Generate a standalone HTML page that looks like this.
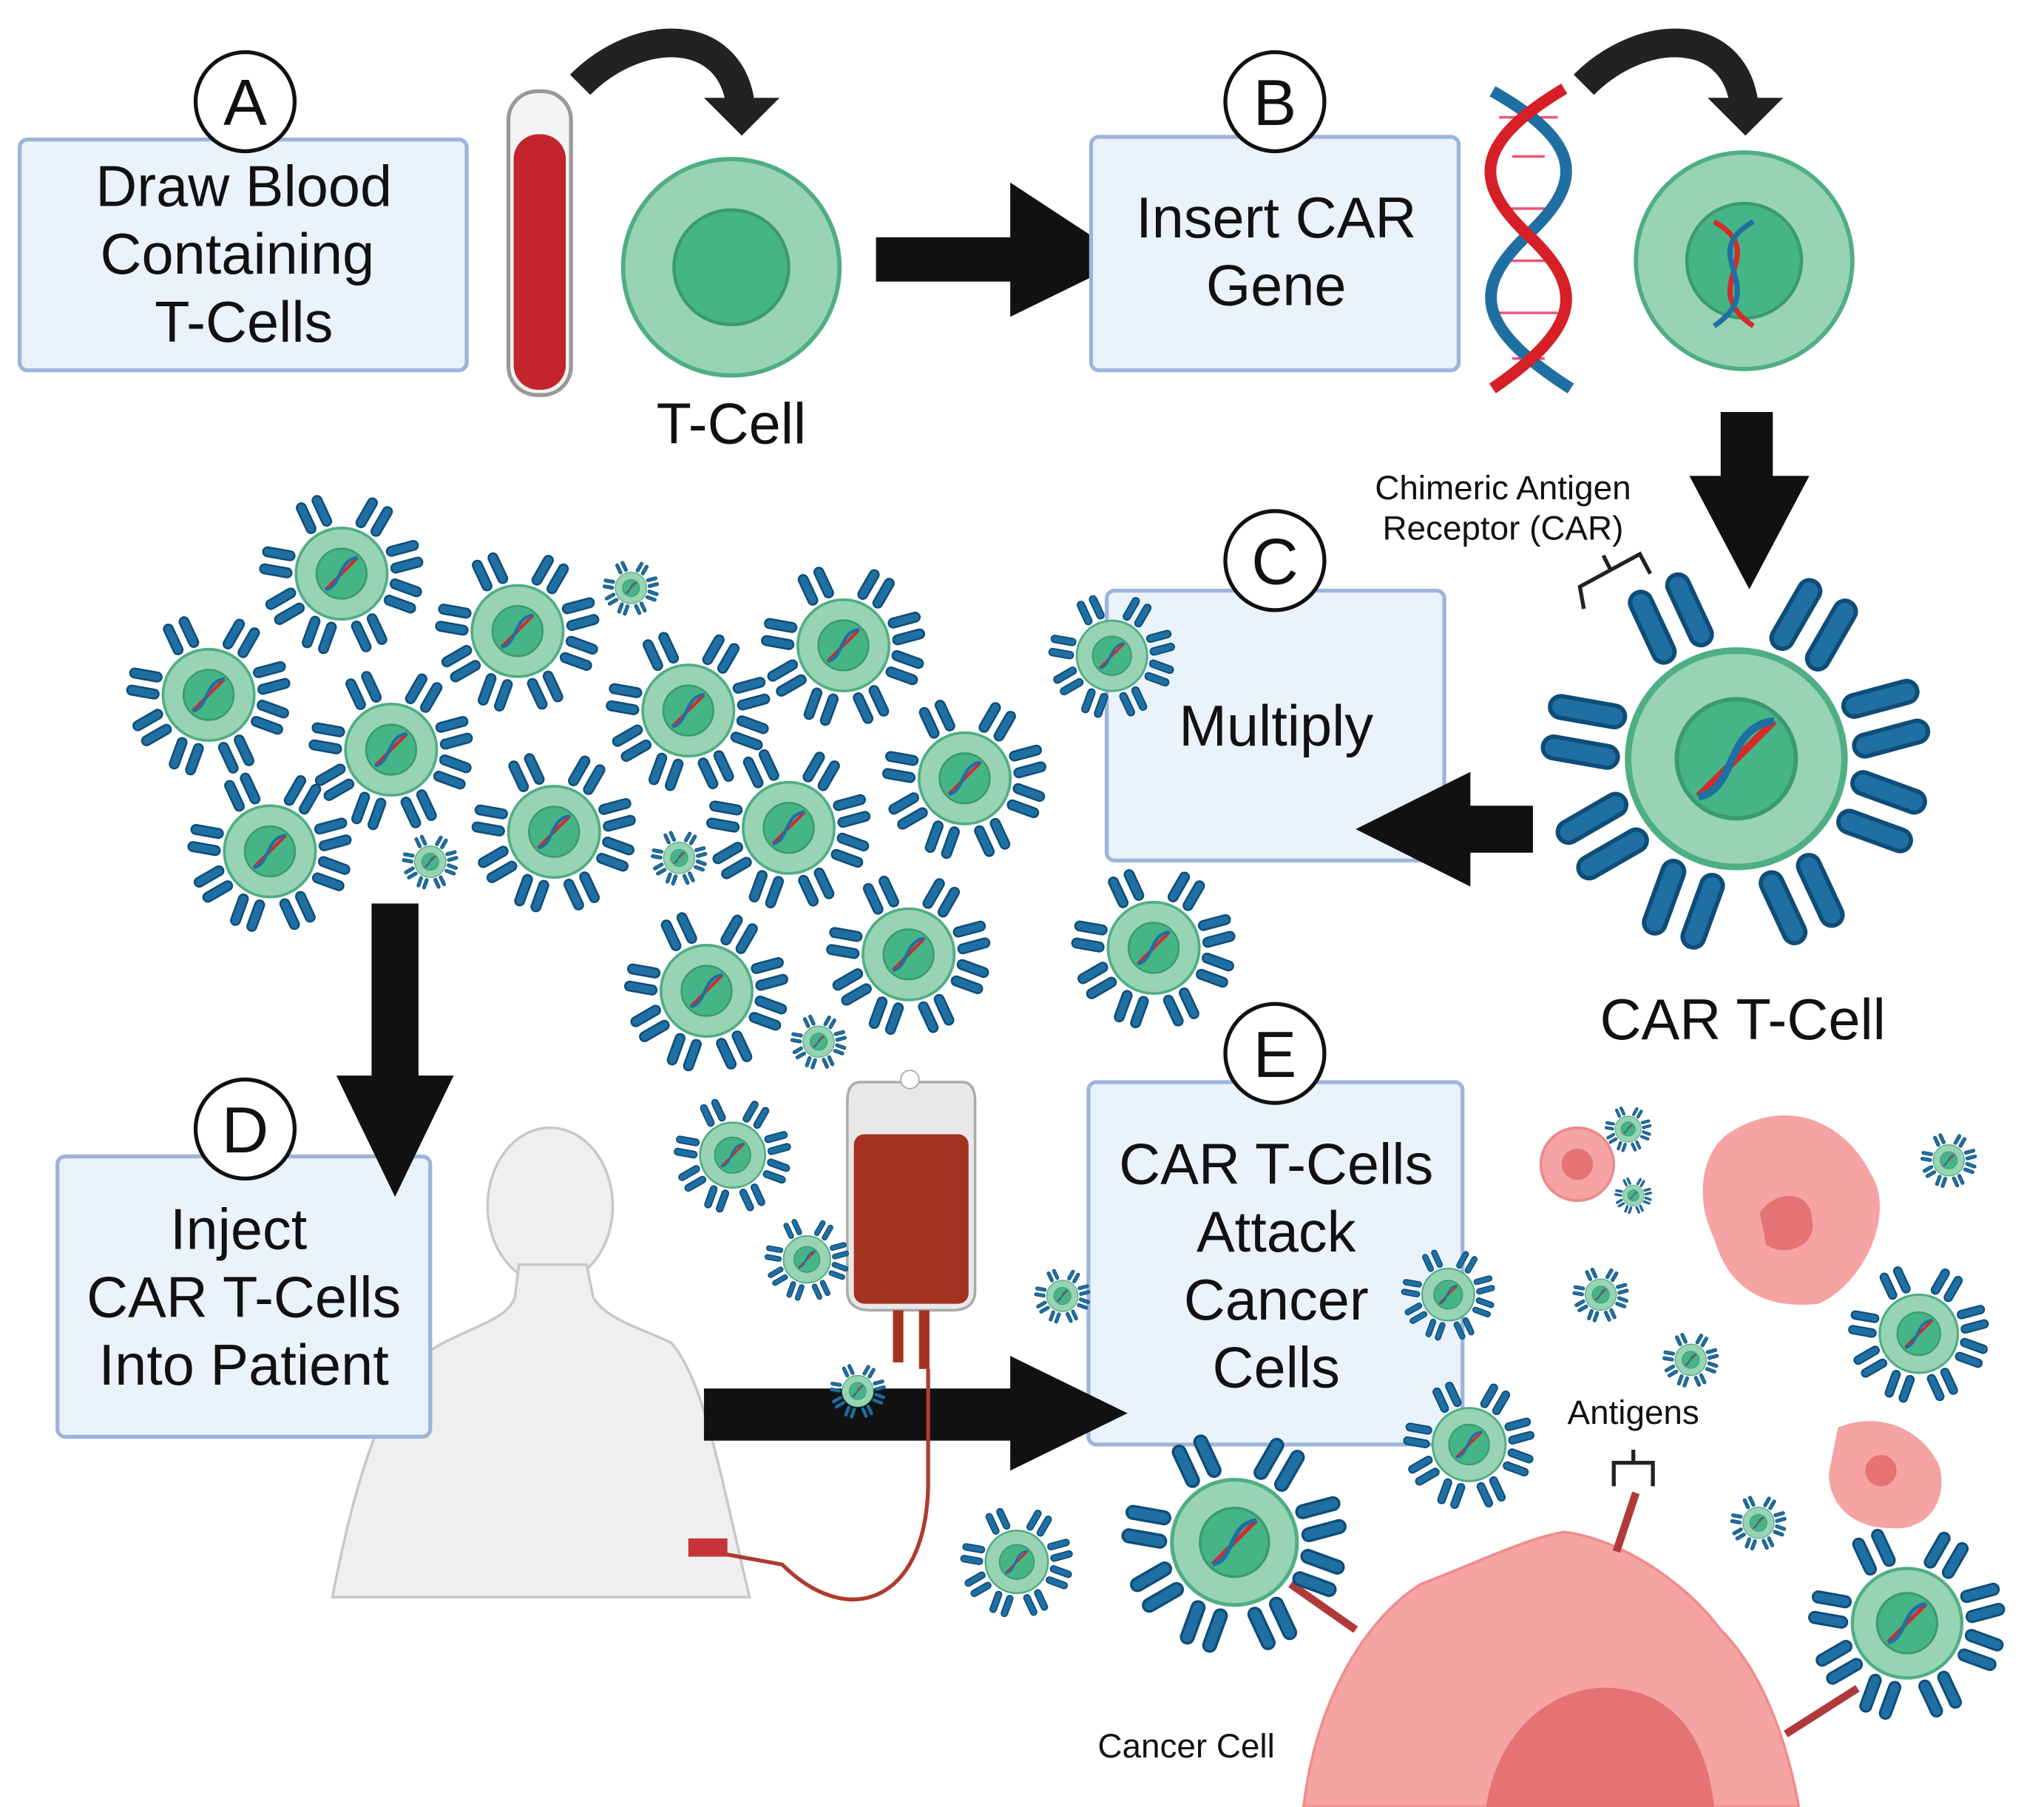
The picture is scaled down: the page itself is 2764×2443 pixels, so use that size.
<!DOCTYPE html>
<html><head><meta charset="utf-8"><style>
html,body{margin:0;padding:0;background:#fff}
svg{display:block}
text{font-family:"Liberation Sans",sans-serif;fill:#111}
</style></head><body>
<svg width="2764" height="2443" viewBox="0 0 1568 1386" xmlns="http://www.w3.org/2000/svg">
<defs>
<g id="rec">
<rect x="1.08" y="-0.29" width="0.7" height="0.2" rx="0.1" fill="#1f6fa3" stroke="#0e4d78" stroke-width="0.04"/>
<rect x="1.08" y="0.09" width="0.7" height="0.2" rx="0.1" fill="#1f6fa3" stroke="#0e4d78" stroke-width="0.04"/>
</g>
<symbol id="cell" viewBox="-2 -2 4 4">
<use href="#rec" transform="rotate(-60)"/><use href="#rec" transform="rotate(-115)"/>
<use href="#rec" transform="rotate(-170)"/><use href="#rec" transform="rotate(150)"/>
<use href="#rec" transform="rotate(110)"/><use href="#rec" transform="rotate(65)"/>
<use href="#rec" transform="rotate(20)"/><use href="#rec" transform="rotate(-15)"/>
<circle r="1" fill="#98d3b4" stroke="#4fae84" stroke-width="0.06"/>
<circle r="0.55" fill="#45b486" stroke="#3a9a70" stroke-width="0.04"/>
<path d="M-0.35,0.35 C-0.1,0.1 0.1,-0.1 0.35,-0.35" stroke="#d52b2b" stroke-width="0.07" fill="none"/>
<path d="M-0.35,0.35 C0,0.3 -0.1,-0.3 0.35,-0.35" stroke="#1f6fa3" stroke-width="0.07" fill="none"/>
</symbol>
<symbol id="tc" viewBox="-2 -2 4 4">
<circle r="1" fill="#98d3b4" stroke="#4fae84" stroke-width="0.04"/>
<circle r="0.53" fill="#45b486" stroke="#3a9a70" stroke-width="0.03"/>
</symbol>
</defs>

<!-- Box A -->
<rect x="15" y="107" width="343" height="177" rx="6" fill="#eaf2fb" stroke="#9db4dc" stroke-width="3"/>
<g font-size="44" text-anchor="middle">
<text x="187" y="158">Draw Blood</text><text x="182" y="210">Containing</text><text x="187" y="262">T-Cells</text>
</g>
<circle cx="188" cy="78" r="38" fill="#fff" stroke="#111" stroke-width="3"/>
<text x="188" y="96" font-size="50" text-anchor="middle">A</text>

<!-- tube -->
<rect x="390" y="70" width="48" height="233" rx="22" fill="#f4f4f4" stroke="#999" stroke-width="3"/>
<rect x="394" y="103" width="40" height="196" rx="19" fill="#c4242b"/>

<!-- curved arrows -->
<path d="M445,65 C490,20 560,20 568,80" fill="none" stroke="#222" stroke-width="22"/>
<polygon points="540,75 598,75 569,104" fill="#222"/>
<path d="M1215,65 C1260,20 1330,20 1338,80" fill="none" stroke="#222" stroke-width="22"/>
<polygon points="1310,75 1368,75 1339,104" fill="#222"/>

<!-- T cell -->
<use href="#tc" x="395" y="39" width="332" height="332"/>
<text x="561" y="340" font-size="44" text-anchor="middle">T-Cell</text>

<!-- arrow A->B -->
<rect x="672" y="182" width="105" height="34" fill="#111"/>
<polygon points="775,140 865,199 775,243" fill="#111"/>

<!-- Box B -->
<rect x="837" y="105" width="282" height="179" rx="6" fill="#eaf2fb" stroke="#9db4dc" stroke-width="3"/>
<g font-size="44" text-anchor="middle"><text x="979" y="182">Insert CAR</text><text x="979" y="234">Gene</text></g>
<circle cx="978" cy="78" r="38" fill="#fff" stroke="#111" stroke-width="3"/>
<text x="978" y="96" font-size="50" text-anchor="middle">B</text>

<!-- DNA -->
<g stroke-width="2" stroke="#e57">
<line x1="1150" y1="90" x2="1195" y2="90"/><line x1="1160" y1="120" x2="1185" y2="120"/><line x1="1150" y1="160" x2="1195" y2="160"/><line x1="1158" y1="200" x2="1188" y2="200"/><line x1="1150" y1="240" x2="1195" y2="240"/><line x1="1160" y1="275" x2="1185" y2="275"/>
</g>
<path d="M1145,70 C1215,110 1215,140 1172,180 C1130,220 1130,250 1205,298" fill="none" stroke="#1f6fa3" stroke-width="9"/>
<path d="M1200,68 C1130,110 1130,140 1172,180 C1215,220 1215,250 1145,298" fill="none" stroke="#d61f26" stroke-width="9"/>

<!-- cell with DNA -->
<use href="#tc" x="1172" y="34" width="332" height="332"/>
<path d="M1315,170 C1360,195 1300,220 1345,250" stroke="#d52b2b" stroke-width="4" fill="none"/>
<path d="M1345,170 C1300,195 1360,220 1315,250" stroke="#1f6fa3" stroke-width="4" fill="none"/>

<!-- down arrow B->C -->
<rect x="1320" y="316" width="40" height="52" fill="#111"/>
<polygon points="1296,365 1388,365 1342,452" fill="#111"/>

<!-- CAR label -->
<g font-size="26" text-anchor="middle"><text x="1153" y="383">Chimeric Antigen</text><text x="1153" y="414">Receptor (CAR)</text></g>
<path d="M1215,467 L1212,450 L1258,425 L1266,440 M1236,438 L1230,426" stroke="#222" stroke-width="3" fill="none"/>

<!-- Box C -->
<rect x="849" y="453" width="259" height="207" rx="6" fill="#eaf2fb" stroke="#9db4dc" stroke-width="3"/>
<text x="979" y="572" font-size="44" text-anchor="middle">Multiply</text>
<circle cx="978" cy="430" r="38" fill="#fff" stroke="#111" stroke-width="3"/>
<text x="978" y="448" font-size="50" text-anchor="middle">C</text>

<!-- CAR T cell -->
<use href="#cell" x="1166" y="416" width="332" height="332"/>
<text x="1337" y="797" font-size="44" text-anchor="middle">CAR T-Cell</text>

<!-- left arrow -->
<rect x="1120" y="618" width="56" height="36" fill="#111"/>
<polygon points="1128,592 1040,636 1128,680" fill="#111"/>

<!-- Human -->
<ellipse cx="422" cy="925" rx="48" ry="60" fill="#efefef" stroke="#c8c8c8" stroke-width="2"/>
<path d="M255,1225 C275,1120 300,1050 340,1030 C370,1015 390,1010 395,995 L398,970 L450,970 L455,995 C465,1012 490,1018 515,1030 C540,1060 550,1120 575,1225 Z" fill="#efefef" stroke="#c8c8c8" stroke-width="2"/>

<!-- Box D -->
<rect x="44" y="887" width="286" height="215" rx="6" fill="#eaf2fb" stroke="#9db4dc" stroke-width="3"/>
<g font-size="44" text-anchor="middle"><text x="183" y="958">Inject</text><text x="187" y="1010">CAR T-Cells</text><text x="187" y="1062">Into Patient</text></g>
<circle cx="188" cy="866" r="38" fill="#fff" stroke="#111" stroke-width="3"/>
<text x="188" y="884" font-size="50" text-anchor="middle">D</text>

<!-- Box E -->
<rect x="835" y="830" width="287" height="278" rx="6" fill="#eaf2fb" stroke="#9db4dc" stroke-width="3"/>
<g font-size="44" text-anchor="middle"><text x="979" y="908">CAR T-Cells</text><text x="979" y="960">Attack</text><text x="979" y="1012">Cancer</text><text x="979" y="1064">Cells</text></g>
<circle cx="978" cy="808" r="38" fill="#fff" stroke="#111" stroke-width="3"/>
<text x="978" y="826" font-size="50" text-anchor="middle">E</text>

<!-- cancer blobs -->
<circle cx="1210" cy="893" r="28" fill="#f5a3a3" stroke="#e88" stroke-width="2"/><circle cx="1210" cy="893" r="12" fill="#e57373"/>
<path d="M1325,870 C1370,840 1415,860 1435,900 C1455,930 1430,985 1395,1000 C1350,1005 1325,985 1315,950 C1300,920 1305,885 1325,870 Z" fill="#f5a3a3"/>
<path d="M1350,930 C1365,910 1390,915 1390,935 C1395,955 1370,965 1355,955 Z" fill="#e57373"/>
<path d="M1410,1095 C1440,1082 1475,1095 1488,1125 C1495,1155 1475,1175 1450,1172 C1422,1172 1403,1155 1403,1130 Z" fill="#f5a3a3"/>
<circle cx="1443" cy="1128" r="12" fill="#e57373"/>

<!-- big cancer cell -->
<path d="M1000,1386 C1010,1300 1050,1240 1090,1215 C1130,1200 1170,1180 1200,1175 C1240,1180 1290,1210 1320,1250 C1350,1280 1370,1330 1380,1386 Z" fill="#f5a3a3" stroke="#f08c8c" stroke-width="2"/>
<path d="M1140,1386 C1150,1320 1200,1290 1240,1295 C1290,1300 1310,1340 1315,1386 Z" fill="#e57373"/>
<line x1="1240" y1="1190" x2="1255" y2="1145" stroke="#b03a3a" stroke-width="6"/>
<line x1="1040" y1="1250" x2="990" y2="1215" stroke="#b03a3a" stroke-width="6"/>
<line x1="1370" y1="1330" x2="1425" y2="1295" stroke="#b03a3a" stroke-width="6"/>
<path d="M1238,1140 L1238,1122 L1268,1122 L1268,1140 M1253,1122 L1253,1112" stroke="#222" stroke-width="3" fill="none"/>
<text x="1253" y="1092" font-size="26" text-anchor="middle">Antigens</text>
<text x="910" y="1348" font-size="26" text-anchor="middle">Cancer Cell</text>

<!-- arrow D->E -->
<rect x="540" y="1065" width="240" height="40" fill="#111"/>
<polygon points="775,1040 865,1084 775,1128" fill="#111"/>

<!-- IV bag -->
<path d="M660,830 L738,830 Q748,830 748,845 L748,990 Q748,1005 730,1005 L668,1005 Q650,1005 650,990 L650,845 Q650,830 660,830 Z" fill="#e8e8e8" stroke="#aaa" stroke-width="2"/>
<rect x="655" y="870" width="88" height="130" rx="8" fill="#a33221"/>
<circle cx="698" cy="828" r="7" fill="#fff" stroke="#aaa"/>
<rect x="685" y="1005" width="8" height="40" fill="#a33221"/><rect x="705" y="1005" width="8" height="45" fill="#a33221"/>
<path d="M712,1050 L712,1140 C710,1230 650,1250 600,1200 L545,1190" fill="none" stroke="#b03a2e" stroke-width="3"/>
<rect x="528" y="1180" width="30" height="14" fill="#c6353a"/>

<!-- many cells -->
<g>
<use href="#cell" x="192" y="370" width="140" height="140"/>
<use href="#cell" x="327" y="414" width="140" height="140"/>
<use href="#cell" x="90" y="463" width="140" height="140"/>
<use href="#cell" x="230" y="505" width="140" height="140"/>
<use href="#cell" x="137" y="583" width="140" height="140"/>
<use href="#cell" x="355" y="568" width="140" height="140"/>
<use href="#cell" x="458" y="475" width="140" height="140"/>
<use href="#cell" x="577" y="425" width="140" height="140"/>
<use href="#cell" x="535" y="565" width="140" height="140"/>
<use href="#cell" x="670" y="527" width="140" height="140"/>
<use href="#cell" x="799" y="449" width="108" height="108"/>
<use href="#cell" x="815" y="657" width="140" height="140"/>
<use href="#cell" x="627" y="662" width="140" height="140"/>
<use href="#cell" x="472" y="690" width="140" height="140"/>
<use href="#cell" x="512" y="836" width="100" height="100"/>
<use href="#cell" x="851" y="1087" width="192" height="192"/>
<use href="#cell" x="1071" y="1052" width="112" height="112"/>
<use href="#cell" x="1412" y="963" width="120" height="120"/>
<use href="#cell" x="1379" y="1161" width="168" height="168"/>
<use href="#cell" x="1071" y="953" width="80" height="80"/>
<use href="#cell" x="732" y="1150" width="96" height="96"/>
<use href="#cell" x="583" y="930" width="72" height="72"/>
<use href="#cell" x="460" y="427" width="48" height="48"/>
<use href="#cell" x="306" y="637" width="48" height="48"/>
<use href="#cell" x="497" y="634" width="48" height="48"/>
<use href="#cell" x="604" y="775" width="48" height="48"/>
<use href="#cell" x="1204" y="969" width="48" height="48"/>
<use href="#cell" x="791" y="970" width="48" height="48"/>
<use href="#cell" x="1273" y="1019" width="48" height="48"/>
<use href="#cell" x="1325" y="1144" width="48" height="48"/>
<use href="#cell" x="1471" y="866" width="48" height="48"/>
<use href="#cell" x="1229" y="846" width="40" height="40"/>
<use href="#cell" x="1237" y="901" width="32" height="32"/>
<use href="#cell" x="634" y="1043" width="48" height="48"/>
</g>

<!-- down arrow C->D -->
<rect x="285" y="693" width="36" height="135" fill="#111"/>
<polygon points="258,825 348,825 303,918" fill="#111"/>
</svg>
</body></html>
